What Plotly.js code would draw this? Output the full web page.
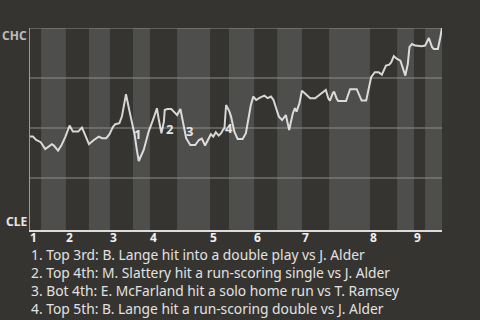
<!DOCTYPE html>
<html>
<head>
<meta charset="utf-8">
<script src="https://cdn.plot.ly/plotly-3.0.1.min.js"></script>
<style>
html,body{margin:0;padding:0;background:#363430;}
#chart{width:480px;height:320px;}
</style>
</head>
<body>
<div id="chart"></div>
<script>
// Game progress (0-100) and CHC win probability (%)
var progress = [0,0.7,1.5,2.6,3.7,4.7,5.3,5.8,6.8,7.6,8.6,9.6,10.4,11.7,12.6,13.3,14.3,15.5,16.7,17.5,18.5,19.3,20.1,20.7,21.7,22.3,23.3,24.0,24.8,25.4,26.0,26.4,27.6,28.8,30.0,30.8,31.2,31.9,32.5,32.7,33.3,34.3,34.9,35.7,36.5,37.1,37.9,38.9,40.1,41.0,41.7,42.5,43.4,43.9,44.5,45.1,45.8,46.4,46.8,47.2,47.6,48.4,48.8,49.6,50.4,51.6,52.4,53.1,53.6,54.2,54.9,55.8,56.9,57.7,58.5,59.1,59.7,60.4,61.2,61.5,62.1,62.9,63.8,64.3,64.7,65.4,66.0,66.5,67.2,68.0,69.2,70.2,71.0,71.8,72.4,72.8,73.5,73.8,74.4,74.8,76.7,77.7,79.3,80.1,80.5,81.6,82.4,82.8,83.7,84.6,85.4,86.4,87.2,87.7,88.3,89.1,89.9,90.5,91.1,91.7,92.1,92.7,93.5,95.1,95.9,96.8,97.6,98.0,99.0,99.6,100];
var winProb = [45.7,45.7,44,42.9,39.5,41.2,41.9,41.2,38.7,41.2,45.7,51.2,48.2,48.2,50.2,46.9,41.9,44,45.7,44.9,44.9,46.9,50.5,51.9,52.4,55.7,66.9,59.9,52.4,46.5,38.2,33.5,39,48.2,54.9,59.9,54.9,47.4,53.2,59,59.5,59.5,58.2,56.5,59.5,53.2,44.9,41.5,41.5,44,44.75,41.25,44.9,46.9,45.7,47.9,46.2,47.4,49,49.9,61.5,58.2,55.7,48.2,44.5,44.5,47.4,54.9,61.5,65.7,64,65.2,66.2,64.9,65.7,64,59.9,55.7,54,54.9,56.5,49,57.4,59.9,58.2,62.4,68.7,67.7,66.5,64.9,64.9,66.5,67.4,69,64.9,63.7,67.4,68.2,64.9,63.5,63.5,69.4,69.4,65.7,63.7,63.7,71.2,75.4,77.9,77.9,76.7,81.2,81.7,82.9,85.9,84.5,83.7,80.4,76.2,82,90.4,92,91.2,90.9,91.2,95,90.4,89.5,89.5,95.4,100];

// Half-inning boundaries (game progress units)
var halfStarts = [0,2.7,8.7,14.3,19.4,25.0,29.1,35.7,43.7,48.3,54.4,60.0,66.0,72.6,82.5,89.1,93.2,95.9];
var halfEnd = 100;
var inningLabels = ['1','2','3','4','5','6','7','8','9'];

// Key events
var eventNums = ['1','2','3','4'];
var eventX = [26.0,33.9,38.7,48.4];
var eventY = [47,49.3,48.3,50];
var eventTexts = [
  '1. Top 3rd: B. Lange hit into a double play vs J. Alder',
  '2. Top 4th: M. Slattery hit a run-scoring single vs J. Alder',
  '3. Bot 4th: E. McFarland hit a solo home run vs T. Ramsey',
  '4. Top 5th: B. Lange hit a run-scoring double vs J. Alder'
];
var teamTop = 'CHC', teamBottom = 'CLE';
var gridLevels = [25,50,75,100];

var FONT = '"Noto Sans", "Open Sans", sans-serif';
var shapes = [];
for (var i = 0; i < halfStarts.length; i++) {
  if (i % 2 === 1) {
    var x1 = (i + 1 < halfStarts.length) ? halfStarts[i+1] : halfEnd;
    shapes.push({type:'rect', xref:'x', yref:'paper', x0:halfStarts[i], x1:x1, y0:0, y1:1,
      fillcolor:'#4e4e4d', line:{width:0}, layer:'below'});
  }
}
gridLevels.forEach(function(g){
  shapes.push({type:'line', xref:'paper', yref:'y', x0:0, x1:1, y0:g, y1:g,
    line:{color:'#8c8c8a', width:1}, layer:'below'});
});

var annotations = [];
for (var k = 0; k < inningLabels.length; k++) {
  annotations.push({text:'<b>'+inningLabels[k]+'</b>', x:halfStarts[k*2], y:0, xref:'x', yref:'paper',
    xanchor:'left', yanchor:'middle', yshift:-7, xshift:-1, showarrow:false, borderpad:0,
    font:{family:FONT, size:12, color:'#f0f0f0'}});
}
for (var e = 0; e < eventNums.length; e++) {
  annotations.push({text:'<b>'+eventNums[e]+'</b>', x:eventX[e], y:eventY[e], xref:'x', yref:'y',
    showarrow:false, borderpad:0, font:{family:FONT, size:13, color:'#e6e6e6'}});
}
annotations.push({text:'<b>'+teamTop+'</b>', x:0, y:100, xref:'paper', yref:'y', xanchor:'right', yanchor:'middle',
  xshift:-2, yshift:-7, showarrow:false, borderpad:0, font:{family:FONT, size:12, color:'#bdbdbd'}});
annotations.push({text:'<b>'+teamBottom+'</b>', x:0, y:0, xref:'paper', yref:'y', xanchor:'right', yanchor:'middle',
  xshift:-2, yshift:7, showarrow:false, borderpad:0, font:{family:FONT, size:12, color:'#e6e6e6'}});
for (var t = 0; t < eventTexts.length; t++) {
  annotations.push({text:eventTexts[t], x:0, y:0, xref:'paper', yref:'paper', xanchor:'left', yanchor:'middle',
    xshift:0, yshift:-24 - 18*t, showarrow:false, borderpad:0, font:{family:FONT, size:13.8, color:'#e2e2e2'}});
}

var trace = {x:progress, y:winProb, type:'scatter', mode:'lines',
  line:{color:'rgba(255,255,255,0.8)', width:2}, hoverinfo:'skip'};

var layout = {
  width:480, height:320,
  paper_bgcolor:'#363430', plot_bgcolor:'#363430',
  margin:{l:30, r:38, t:28, b:90},
  showlegend:false,
  xaxis:{range:[0,100], showgrid:false, zeroline:false, showticklabels:false, ticks:'',
    showline:true, linecolor:'#dcdcdc', linewidth:2, fixedrange:true},
  yaxis:{range:[-1,100], showgrid:false, zeroline:false, showticklabels:false, ticks:'',
    showline:true, linecolor:'#9a9a98', linewidth:1, fixedrange:true},
  shapes:shapes,
  annotations:annotations
};
Plotly.newPlot('chart', [trace], layout, {staticPlot:true, displayModeBar:false});
</script>
</body>
</html>
